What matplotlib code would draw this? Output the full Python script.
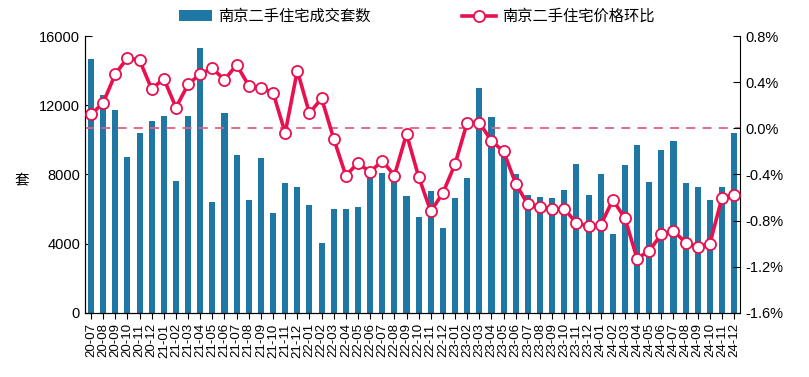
import matplotlib
matplotlib.use("Agg")
import matplotlib.pyplot as plt
import numpy as np

plt.rcParams['font.family'] = ['Liberation Sans', 'Noto Sans CJK SC', 'DejaVu Sans']

months = []
for y in range(20, 25):
    for m in range(1, 13):
        if (y == 20 and m < 7):
            continue
        months.append(f"{y}-{m:02d}")

volume = [14700, 12600, 11700, 9000, 10400, 11100, 11400, 7600, 11400, 15300,
          6400, 11550, 9100, 6500, 8970, 5800, 7500, 7300, 6250, 4050,
          6000, 6000, 6100, 7900, 8100, 7600, 6750, 5550, 7050, 4900,
          6650, 7800, 13000, 11300, 9100, 8000, 6800, 6700, 6650, 7100,
          8600, 6800, 8000, 4550, 8550, 9700, 7550, 9400, 9950, 7500,
          7250, 6500, 7300, 10400]

mom = [0.12, 0.22, 0.47, 0.61, 0.59, 0.34, 0.43, 0.18, 0.38, 0.47,
       0.52, 0.42, 0.55, 0.37, 0.35, 0.31, -0.04, 0.50, 0.13, 0.26,
       -0.09, -0.41, -0.30, -0.38, -0.28, -0.41, -0.05, -0.42, -0.72, -0.56,
       -0.31, 0.05, 0.05, -0.11, -0.20, -0.48, -0.66, -0.68, -0.70, -0.70,
       -0.82, -0.85, -0.84, -0.62, -0.78, -1.13, -1.06, -0.92, -0.89, -0.99,
       -1.03, -1.00, -0.60, -0.58]

bar_color = '#1f78a4'
line_color = '#e8104f'

fig = plt.figure(figsize=(8.09, 3.77), dpi=100)
ax = fig.add_axes([0.105, 0.170, 0.810, 0.7345])
x = np.arange(len(months))
b = ax.bar(x, volume, width=0.5, color=bar_color, label='南京二手住宅成交套数', zorder=2)
ax.set_xlim(-0.5, len(months) - 0.5)
ax.set_ylim(0, 16000)
ax.set_yticks([0, 4000, 8000, 12000, 16000])
ax.set_xticks(x)
ax.set_xticklabels(months, rotation=90, fontsize=9.5)
ax.tick_params(axis='y', direction='in', labelsize=10.5, length=5)
ax.tick_params(axis='x', direction='inout', length=8)
ax.spines['top'].set_visible(False)
ax.spines['right'].set_visible(False)
fig.text(0.027, 0.52, '套', fontsize=10.5, ha='center', va='center', family=['Noto Sans CJK SC'])

ax2 = ax.twinx()
ax2.set_ylim(-1.6, 0.8)
ax2.set_yticks([-1.6, -1.2, -0.8, -0.4, 0.0, 0.4, 0.8])
ax2.set_yticklabels([f"{v:.1f}%" for v in [-1.6, -1.2, -0.8, -0.4, 0.0, 0.4, 0.8]])
ax2.tick_params(axis='y', direction='in', labelsize=10.5, length=5)
ax2.spines['top'].set_visible(False)
ax2.axhline(0, color='#e0607e', linestyle=(0, (5, 4)), linewidth=1.3, zorder=1)
l, = ax2.plot(x, mom, color=line_color, linewidth=2.6, marker='o', markersize=8,
              markerfacecolor='white', markeredgecolor=line_color, markeredgewidth=1.3,
              label='南京二手住宅价格环比', zorder=3)

leg = fig.legend([b, l], ['南京二手住宅成交套数', '南京二手住宅价格环比'], loc='upper center',
                 bbox_to_anchor=(0.515, 1.015), ncol=2, frameon=False, columnspacing=6.0,
                 handletextpad=0.4, handlelength=2.2,
                 prop={'family': ['Noto Sans CJK SC'], 'size': 11})

fig.savefig('out.png', dpi=100)
